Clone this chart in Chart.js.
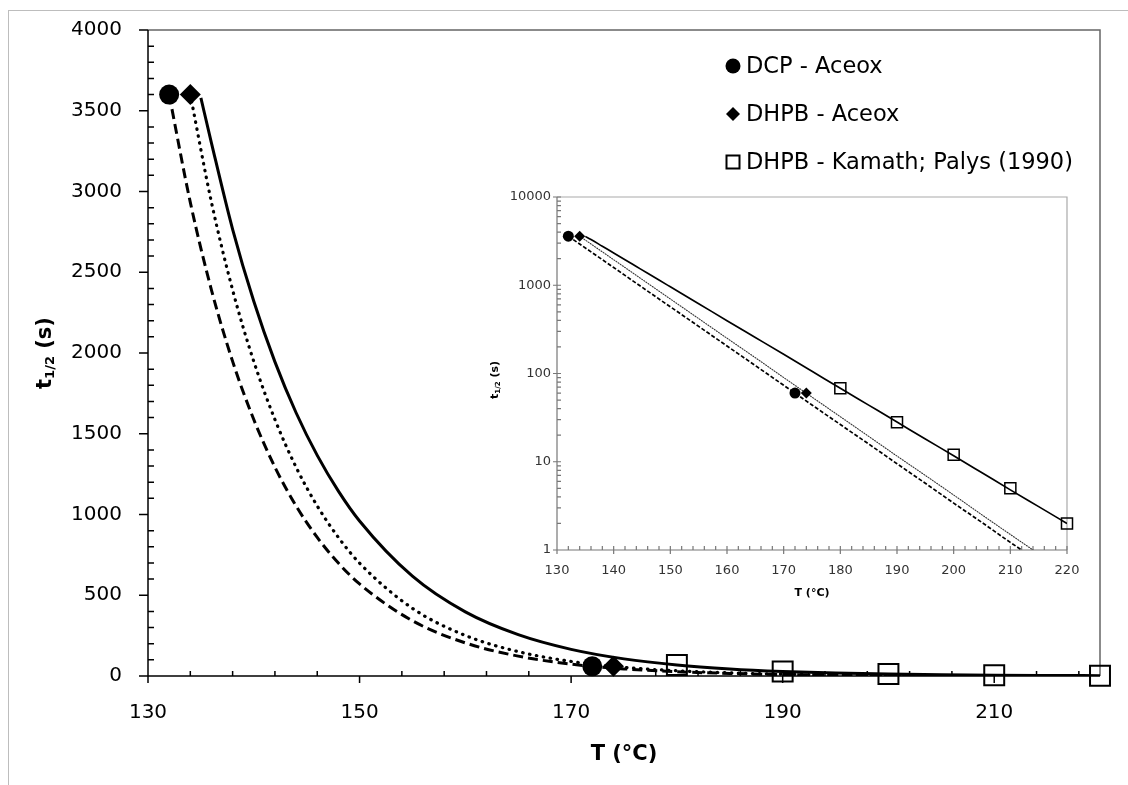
<!DOCTYPE html>
<html>
<head>
<meta charset="utf-8">
<script src="https://cdn.jsdelivr.net/npm/chart.js@4.4.1/dist/chart.umd.min.js"></script>
<style>
  body { margin: 0; background: #fff; }
  #wrap { position: relative; width: 1128px; height: 785px; overflow: hidden; }
  #frame { position: absolute; left: 8px; top: 10px; width: 1300px; height: 900px;
           border-left: 1px solid #bdbdbd; border-top: 1px solid #bdbdbd; }
  #main { position: absolute; left: 0; top: 0; }
  #inset { position: absolute; left: 470px; top: 180px; }
</style>
</head>
<body>
<div id="wrap">
  <div id="frame"></div>
  <canvas id="main" width="1128" height="785"></canvas>
  <canvas id="inset" width="620" height="440"></canvas>
</div>
<script>
// Measured half-lives (T in °C, t1/2 in s)
const dcpT = [132, 172];
const dcpHalfLife = [3600, 60];
const dhpbT = [134, 174];
const dhpbHalfLife = [3600, 60];
const kamathT = [180, 190, 200, 210, 220];
const kamathHalfLife = [68, 28, 12, 5, 2];

// Trend curves
const dcpFitT = [132, 134, 136, 138, 140, 142, 144, 146, 148, 150, 155, 160, 165, 170, 175, 180, 185, 190, 195, 200, 205, 210, 212];
const dcpFitHalfLife = [3600, 2933, 2390, 1948, 1588, 1293, 1053, 858, 699, 570, 342, 205, 123, 73.5, 44, 26.4, 15.9, 9.5, 5.7, 3.4, 2.05, 1.22, 1.0];
const dhpbFitT = [134, 136, 138, 140, 142, 144, 146, 148, 150, 155, 160, 165, 170, 175, 180, 185, 190, 195, 200, 205, 210, 214];
const dhpbFitHalfLife = [3600, 2933, 2390, 1948, 1588, 1293, 1053, 858, 699, 419, 251, 151, 90, 54, 32.4, 19.4, 11.6, 7.0, 4.2, 2.5, 1.5, 1.0];
const kamathFitT = [135, 136, 138, 140, 142, 144, 146, 148, 150, 155, 160, 165, 170, 175, 180, 185, 190, 195, 200, 205, 210, 215, 220];
const kamathFitHalfLife = [3580, 3300, 2766, 2320, 1945, 1630, 1366, 1145, 960, 618, 397, 256, 165, 106, 68, 43.8, 28.2, 18.1, 11.7, 7.5, 4.8, 3.1, 2];

// Tick labels
const mainXTicks = [130, 150, 170, 190, 210];
const mainYTicks = [0, 500, 1000, 1500, 2000, 2500, 3000, 3500, 4000];
const insetXTicks = [130, 140, 150, 160, 170, 180, 190, 200, 210, 220];
const insetYTicks = [1, 10, 100, 1000, 10000];

const legendLabels = ["DCP - Aceox", "DHPB - Aceox", "DHPB - Kamath; Palys (1990)"];

const FONT = "'DejaVu Sans', sans-serif";

function toPoints(xs, ys) {
  return xs.map((x, i) => ({ x: x, y: ys[i] }));
}

function buildDatasets(s) {
  return [
    {
      label: legendLabels[0], data: toPoints(dcpT, dcpHalfLife), showLine: false, clip: false,
      pointStyle: "circle", pointRadius: s.circle, pointBackgroundColor: "#000", pointBorderColor: "#000", pointBorderWidth: 0
    },
    {
      label: legendLabels[1], data: toPoints(dhpbT, dhpbHalfLife), showLine: false, clip: false,
      pointStyle: "rectRot", pointRadius: s.diamond, pointBackgroundColor: "#000", pointBorderColor: "#000", pointBorderWidth: 0
    },
    {
      label: legendLabels[2], data: toPoints(kamathT, kamathHalfLife), showLine: false, clip: false,
      pointStyle: "rect", pointRadius: s.square, pointBackgroundColor: "rgba(0,0,0,0)", pointBorderColor: "#000", pointBorderWidth: s.squareLine
    },
    {
      data: toPoints(dcpFitT, dcpFitHalfLife), showLine: true, pointRadius: 0, fill: false,
      borderColor: "#000", borderWidth: s.dashWidth, borderDash: s.dash, cubicInterpolationMode: "monotone"
    },
    {
      data: toPoints(dhpbFitT, dhpbFitHalfLife), showLine: true, pointRadius: 0, fill: false,
      borderColor: s.dotColor, borderWidth: s.dotWidth, borderDash: s.dot, borderCapStyle: "round", cubicInterpolationMode: "monotone"
    },
    {
      data: toPoints(kamathFitT, kamathFitHalfLife), showLine: true, pointRadius: 0, fill: false,
      borderColor: "#000", borderWidth: s.solidWidth, cubicInterpolationMode: "monotone"
    }
  ];
}

// Draw one tick mark; first length goes into the plot, second away from it
function tickX(ctx, px, base, len) {
  ctx.moveTo(px, base - len[0]);
  ctx.lineTo(px, base + len[1]);
}
function tickY(ctx, py, base, len) {
  ctx.moveTo(base + len[0], py);
  ctx.lineTo(base - len[1], py);
}

function drawTitleY(ctx, cx, cy, size, subSize, subShift) {
  const parts = [
    { text: "t", font: "bold " + size + "px " + FONT, dy: 0 },
    { text: "1/2", font: "bold " + subSize + "px " + FONT, dy: subShift },
    { text: " (s)", font: "bold " + size + "px " + FONT, dy: 0 }
  ];
  ctx.save();
  ctx.translate(cx, cy);
  ctx.rotate(-Math.PI / 2);
  ctx.fillStyle = "#000";
  ctx.textBaseline = "middle";
  ctx.textAlign = "left";
  let total = 0;
  parts.forEach((p) => { ctx.font = p.font; p.w = ctx.measureText(p.text).width; total += p.w; });
  let x = -total / 2;
  parts.forEach((p) => { ctx.font = p.font; ctx.fillText(p.text, x, p.dy); x += p.w; });
  ctx.restore();
}

function framePlugin(cfg) {
  return {
    id: "frame",
    beforeDatasetsDraw(chart) {
      const { ctx, chartArea: a, scales: { x, y } } = chart;
      ctx.save();
      // plot area box, top and right
      ctx.strokeStyle = cfg.boxColor;
      ctx.lineWidth = cfg.boxWidth;
      ctx.beginPath();
      ctx.moveTo(a.left, a.top);
      ctx.lineTo(a.right, a.top);
      ctx.lineTo(a.right, a.bottom);
      ctx.stroke();
      // axes with ticks
      ctx.strokeStyle = cfg.axisColor;
      ctx.lineWidth = cfg.axisWidth;
      ctx.beginPath();
      ctx.moveTo(a.left, a.top);
      ctx.lineTo(a.left, a.bottom);
      ctx.lineTo(a.right, a.bottom);
      cfg.xMajors.forEach((v) => tickX(ctx, x.getPixelForValue(v), a.bottom, cfg.xMajor));
      cfg.xMinors.forEach((v) => tickX(ctx, x.getPixelForValue(v), a.bottom, cfg.xMinor));
      cfg.yMajors.forEach((v) => tickY(ctx, y.getPixelForValue(v), a.left, cfg.yMajor));
      cfg.yMinors.forEach((v) => tickY(ctx, y.getPixelForValue(v), a.left, cfg.yMinor));
      ctx.stroke();
      ctx.restore();
    },
    afterDraw(chart) {
      const { ctx, chartArea: a } = chart;
      ctx.save();
      ctx.fillStyle = "#000";
      ctx.font = "bold " + cfg.titleSize + "px " + FONT;
      ctx.textAlign = "center";
      ctx.textBaseline = "middle";
      ctx.fillText("T (°C)", (a.left + a.right) / 2, cfg.xTitleY);
      ctx.restore();
      drawTitleY(ctx, cfg.yTitleX, cfg.yTitleY, cfg.titleSize, cfg.subSize, cfg.subShift);
      if (cfg.legend) drawLegend(ctx, cfg.legend);
    }
  };
}

function drawLegend(ctx, lg) {
  ctx.save();
  ctx.fillStyle = "#000";
  ctx.strokeStyle = "#000";
  ctx.font = lg.size + "px " + FONT;
  ctx.textBaseline = "middle";
  ctx.textAlign = "left";
  legendLabels.forEach((label, i) => {
    const cy = lg.top + i * lg.gap;
    const cx = lg.markerX;
    ctx.beginPath();
    if (i === 0) {
      ctx.arc(cx, cy, 7.5, 0, Math.PI * 2);
      ctx.fill();
    } else if (i === 1) {
      ctx.moveTo(cx - 7, cy); ctx.lineTo(cx, cy - 7); ctx.lineTo(cx + 7, cy); ctx.lineTo(cx, cy + 7);
      ctx.closePath();
      ctx.fill();
    } else {
      ctx.lineWidth = 2;
      ctx.rect(cx - 6.5, cy - 6.5, 13, 13);
      ctx.stroke();
    }
    ctx.fillText(label, lg.textX, cy + 1);
  });
  ctx.restore();
}

function range(from, to, step, skip) {
  const out = [];
  for (let v = from; v <= to + 1e-9; v += step) {
    if (!skip(v)) out.push(v);
  }
  return out;
}

const logMinors = [];
[1, 10, 100, 1000].forEach((d) => { for (let k = 2; k <= 9; k++) logMinors.push(k * d); });

function fixedTicks(values) {
  return (scale) => { scale.ticks = values.map((v) => ({ value: v })); };
}

// fix axis box size and drop the label overhang padding
function fixSize(prop, size) {
  return (s) => {
    s[prop] = size;
    s.paddingTop = 0;
    s.paddingBottom = 0;
    s.paddingLeft = 0;
    s.paddingRight = 0;
  };
}

// Main chart
new Chart(document.getElementById("main"), {
  type: "scatter",
  data: {
    datasets: buildDatasets({
      circle: 10, diamond: 10.5, square: 14.1, squareLine: 2,
      dashWidth: 3, dash: [10, 5], dotWidth: 3.2, dot: [0.5, 6.5], dotColor: "#000", solidWidth: 3
    })
  },
  options: {
    responsive: false,
    animation: false,
    events: [],
    layout: { padding: { top: 30, right: 28, left: 0, bottom: 0 } },
    plugins: { legend: { display: false }, tooltip: { enabled: false } },
    scales: {
      x: {
        type: "linear", min: 130, max: 220,
        afterBuildTicks: fixedTicks(mainXTicks),
        afterFit: fixSize("height", 109),
        grid: { display: false, drawTicks: false },
        border: { display: false },
        ticks: { padding: 25, color: "#000", maxRotation: 0, font: { family: FONT, size: 20 }, callback: (v) => String(v) }
      },
      y: {
        type: "linear", min: 0, max: 4000,
        afterBuildTicks: fixedTicks(mainYTicks),
        afterFit: fixSize("width", 148),
        grid: { display: false, drawTicks: false },
        border: { display: false },
        ticks: { padding: 26, color: "#000", font: { family: FONT, size: 20 }, callback: (v) => String(v) }
      }
    }
  },
  plugins: [framePlugin({
    boxColor: "#666", boxWidth: 1.5, axisColor: "#000", axisWidth: 1.5,
    xMajors: mainXTicks, xMinors: range(130, 220, 4, (v) => (v - 130) % 20 === 0),
    yMajors: mainYTicks, yMinors: range(0, 4000, 100, (v) => v % 500 === 0),
    xMajor: [0, 7], xMinor: [5, 0], yMajor: [0, 9], yMinor: [6, 0],
    titleSize: 21, xTitleY: 755, yTitleX: 46, yTitleY: 353, subSize: 13, subShift: 5,
    legend: { top: 66, gap: 48, markerX: 733, textX: 746, size: 22.5 }
  })]
});

// Inset chart, log scale
new Chart(document.getElementById("inset"), {
  type: "scatter",
  data: {
    datasets: buildDatasets({
      circle: 5.5, diamond: 5.5, square: 7.8, squareLine: 1.5,
      dashWidth: 1.7, dash: [4, 2], dotWidth: 1.1, dot: [1, 1.6], dotColor: "#333", solidWidth: 1.7
    })
  },
  options: {
    responsive: false,
    animation: false,
    events: [],
    layout: { padding: { top: 17, right: 23, left: 0, bottom: 0 } },
    plugins: { legend: { display: false }, tooltip: { enabled: false } },
    scales: {
      x: {
        type: "linear", min: 130, max: 220,
        afterBuildTicks: fixedTicks(insetXTicks),
        afterFit: fixSize("height", 70),
        grid: { display: false, drawTicks: false },
        border: { display: false },
        ticks: { padding: 13, color: "#333", maxRotation: 0, font: { family: FONT, size: 13 }, callback: (v) => String(v) }
      },
      y: {
        type: "logarithmic", min: 1, max: 10000,
        afterBuildTicks: fixedTicks(insetYTicks),
        afterFit: fixSize("width", 87),
        grid: { display: false, drawTicks: false },
        border: { display: false },
        ticks: { padding: 6, color: "#333", font: { family: FONT, size: 13 }, callback: (v) => String(v) }
      }
    }
  },
  plugins: [framePlugin({
    boxColor: "#aaa", boxWidth: 1.2, axisColor: "#777", axisWidth: 1.2,
    xMajors: insetXTicks, xMinors: range(130, 220, 2, (v) => v % 10 === 0),
    yMajors: insetYTicks, yMinors: logMinors,
    xMajor: [4, 4], xMinor: [4, 0], yMajor: [4, 4], yMinor: [4, 0],
    titleSize: 11, xTitleY: 413, yTitleX: 25, yTitleY: 200, subSize: 7, subShift: 3
  })]
});
</script>
</body>
</html>
